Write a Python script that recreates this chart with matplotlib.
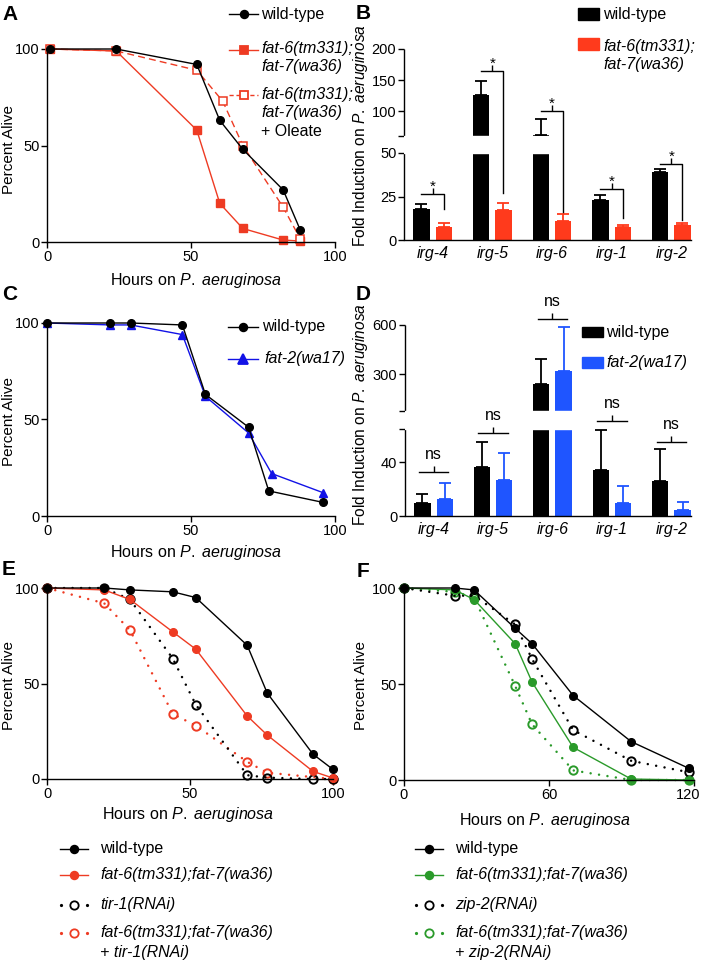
import numpy as np
import matplotlib
matplotlib.use("Agg")
import matplotlib.pyplot as plt
from matplotlib.transforms import Affine2D, ScaledTranslation
from matplotlib.lines import Line2D
from matplotlib.patches import Rectangle

plt.rcParams["font.family"] = "Liberation Sans"
plt.rcParams["mathtext.fontset"] = "custom"
plt.rcParams["mathtext.rm"] = "Liberation Sans"
plt.rcParams["mathtext.it"] = "Liberation Sans:italic"
plt.rcParams["axes.linewidth"] = 1.0

# ---- data ----
# A: survival, fat-6;fat-7 +/- oleate
hours_a = [1, 24, 52, 60, 68, 82, 88]
hours_a_ole = [1, 24, 52, 61, 68, 82, 88]
alive_a_wt = [100, 100, 92, 63, 48, 27, 6]
alive_a_fat = [100, 99, 58, 20, 7, 1, 0.5]
alive_a_ole = [100, 99, 89, 73, 50, 18, 1.5]

# B: irg induction, wt vs fat-6;fat-7
genes = ["irg-4", "irg-5", "irg-6", "irg-1", "irg-2"]
b_wt = [17.7, 126, 62, 23, 39]
b_wt_err = [3.1, 22, 26, 2.6, 1.8]
b_fat = [7.7, 17.3, 11.2, 7.7, 8.5]
b_fat_err = [2.3, 4.2, 3.6, 0.8, 1.1]
b_brk_top = [26.4, 164, 100, 29.3, 43.5]
b_brk_low = [18, 27, 16, 12.6, 11.5]

# C: survival, fat-2
hours_c_wt = [0, 22, 29, 47, 55, 70, 77, 96]
alive_c_wt = [100, 100, 100, 99, 63, 46, 13, 7]
hours_c_fat2 = [0, 22, 29, 47, 55, 70, 78, 96]
alive_c_fat2 = [100, 99, 99, 94, 62, 43, 22, 12]

# D: irg induction, wt vs fat-2
d_wt = [9.6, 36.8, 242, 34.3, 26.4]
d_wt_err = [6.7, 18.5, 150, 30.1, 23.7]
d_fat2 = [12.8, 27.2, 321, 9.6, 4.2]
d_fat2_err = [11.9, 20.2, 261, 12.9, 6.4]
d_brk = [32.9, 62, 632, 70.6, 55.3]

# E: tir-1 RNAi
hours_e = [0, 20, 29, 44, 52, 70, 77, 93, 100]
e_wt = [100, 100, 99, 98, 95, 70, 45, 13, 5]
e_fat = [100, 99, 94, 77, 68, 33, 23, 4, 0.5]
e_tir = [100, 100, 94, 63, 39, 2, 0.7, 0, 0]
hours_e_ft = [0, 20, 29, 44, 52, 70, 77, 100]
e_fat_tir = [100, 92, 78, 34, 28, 9, 3.3, 0]

# F: zip-2 RNAi
hours_f = [0, 21, 29, 46, 53, 70, 94, 118]
f_wt = [100, 100, 99, 79, 71, 44, 20, 6]
f_fat = [100, 99, 94, 71, 51, 17, 0.5, 0]
f_zip = [100, 96, 96, 81, 63, 26, 10, 4]
f_fat_zip = [100, 98, 95, 49, 29, 5, 0, 0]

RED = "#ee3b23"
RED_BAR = "#ff3a1c"
BLUE = "#1212e6"
BLUE_BAR = "#1f55ff"
GREEN = "#2a9a2a"

W, H = 702, 964
fig = plt.figure(figsize=(W / 100, H / 100), dpi=100)
PX = Affine2D().scale(1 / W, -1 / H).translate(0, 1) + fig.transFigure


def rect(l, t, r, b):
    return [l / W, 1 - b / H, (r - l) / W, (b - t) / H]


def style_ax(ax):
    ax.spines[["top", "right"]].set_visible(False)
    ax.tick_params(direction="out", length=4, width=1, labelsize=10.5, pad=1.5)


def key(x0, x1, y, color, ls="-", marker="o", mfc=None, ms=5.5, lw=1.0):
    if ls == "dots":
        fig.add_artist(Line2D([x0, x1], [y, y], transform=PX, color=color, ls="none",
                              marker="o", ms=2.3, mew=0))
    else:
        fig.add_artist(Line2D([x0, x1], [y, y], transform=PX, color=color, ls=ls, lw=lw))
    fig.add_artist(Line2D([(x0 + x1) / 2], [y], transform=PX, marker=marker, ms=ms,
                          color=color, mfc=mfc if mfc else color, mew=1.3, ls="none"))


def txt(x, y, s, italic=True, size=11.5, **kw):
    fig.text(x, y, s, transform=PX, va="center", ha=kw.pop("ha", "left"),
             style="italic" if italic else "normal", fontsize=size, **kw)


DOT = (0, (0.01, 3.4))

# ---- A ----
axA = fig.add_axes(rect(47, 49, 335, 242))
style_ax(axA)
axA.plot(hours_a, alive_a_fat, color=RED, lw=1.0, marker="s", ms=5.5, clip_on=False)
axA.plot(hours_a_ole, alive_a_ole, color=RED, lw=1.0, ls=(0, (5, 3)), marker="s", ms=6,
         mfc="white", mew=1.1, clip_on=False)
axA.plot(hours_a, alive_a_wt, color="k", lw=1.0, marker="o", ms=5.5, clip_on=False)
axA.set_xlim(0, 100)
axA.set_ylim(0, 100)
axA.set_xticks([0, 50, 100])
axA.set_yticks([0, 50, 100])

key(229, 258, 14, "k")
txt(261, 14, "wild-type", italic=False)
key(229, 258, 50, RED, marker="s")
txt(261, 49, "fat-6(tm331);")
txt(261, 66, "fat-7(wa36)")
key(229, 258, 95, RED, ls=(0, (3, 2)), marker="s", mfc="white")
txt(261, 95, "fat-6(tm331);")
txt(261, 113, "fat-7(wa36)")
txt(261, 132, "+ Oleate", italic=False)


# ---- broken-axis bar charts ----
def broken_bars(ax, vals, pxs, seg_lo, seg_hi, wt, wt_err, mut, mut_err, mut_color,
                yticks, ylabels, top):
    fwd = lambda y: np.interp(y, vals, pxs)
    inv = lambda q: np.interp(q, pxs, vals)
    ax.set_yscale("function", functions=(fwd, inv))
    x = np.arange(len(genes))
    off, wid = 0.1875, 0.275
    ax.bar(x - off, wt, wid, color="k", zorder=2)
    ax.bar(x + off, mut, wid, color=mut_color, zorder=2)
    z = np.zeros(len(genes))
    ax.errorbar(x - off, wt, yerr=[z, wt_err], fmt="none", ecolor="k", elinewidth=1.3,
                capsize=4, capthick=1.3, zorder=3)
    ax.errorbar(x + off, mut, yerr=[z, mut_err], fmt="none", ecolor=mut_color,
                elinewidth=1.3, capsize=4, capthick=1.3, zorder=3)
    ax.axhspan(seg_lo, seg_hi, color="white", zorder=2.5)
    ax.spines[["top", "right", "left"]].set_visible(False)
    yt = ax.get_yaxis_transform()
    ax.plot([0, 0], [0, seg_lo], transform=yt, color="k", lw=1.0, clip_on=False,
            solid_capstyle="butt")
    ax.plot([0, 0], [seg_hi, top], transform=yt, color="k", lw=1.0, clip_on=False,
            solid_capstyle="butt")
    ax.set_ylim(0, top)
    ax.set_yticks(yticks)
    ax.set_yticklabels(ylabels)
    ax.tick_params(axis="y", direction="out", length=4, width=1, labelsize=10.5, pad=1.5)
    ax.set_xticks(x)
    ax.set_xticklabels(genes, style="italic", fontsize=11.5)
    ax.tick_params(axis="x", length=0, pad=4)
    ax.set_xlim(-0.48, 4.33)
    return x, off


axB = fig.add_axes(rect(404, 49, 691, 240))
xb, offb = broken_bars(axB, [-1000, 0, 50, 60, 200, 3000],
                       [-1740, 0, 87, 104, 191, 191 + 2800 * 87 / 140],
                       50, 60, b_wt, b_wt_err, b_fat, b_fat_err, RED_BAR,
                       [0, 25, 50, 60, 100, 150, 200], ["0", "25", "50", "", "100", "150", "200"], 200)
for i in range(len(genes)):
    axB.plot([xb[i] - offb, xb[i] + offb, xb[i] + offb], [b_brk_top[i], b_brk_top[i], b_brk_low[i]],
             color="k", lw=1.0, zorder=4, clip_on=False)
    axB.plot([xb[i]], [b_brk_top[i]], marker=2, ms=4, mew=1.0, color="k", zorder=4)
    axB.annotate("*", (xb[i], b_brk_top[i]), xytext=(0, 2.5), textcoords="offset points",
                 ha="center", va="baseline", fontsize=11)

fig.add_artist(Rectangle((578, 8), 21, 12, transform=PX, color="k"))
fig.add_artist(Rectangle((578, 38), 21, 12, transform=PX, color=RED_BAR))
txt(603, 14, "wild-type", italic=False)
txt(603, 47, "fat-6(tm331);")
txt(603, 65, "fat-7(wa36)")

axD = fig.add_axes(rect(405, 324.5, 691, 516))
xd, offd = broken_bars(axD, [-1000, 0, 65, 78, 600, 6000],
                       [-1000 * 87 / 65, 0, 87, 105, 191.5, 191.5 + 5400 * 86.5 / 522],
                       65, 78, d_wt, d_wt_err, d_fat2, d_fat2_err, BLUE_BAR,
                       [0, 40, 65, 78, 300, 600], ["0", "40", "", "", "300", "600"], 600)
for i in range(len(genes)):
    axD.plot([xd[i] - 0.25, xd[i] + 0.25], [d_brk[i], d_brk[i]], color="k", lw=1.0,
             zorder=4, clip_on=False)
    axD.plot([xd[i]], [d_brk[i]], marker=2, ms=4, mew=1.0, color="k", zorder=4, clip_on=False)
    axD.annotate("ns", (xd[i], d_brk[i]), xytext=(0, 9.5), textcoords="offset points",
                 ha="center", va="baseline", fontsize=11.5, annotation_clip=False)

fig.add_artist(Rectangle((582, 326.5), 21, 10.5, transform=PX, color="k"))
fig.add_artist(Rectangle((582, 357), 21, 10.5, transform=PX, color=BLUE_BAR))
txt(606, 332, "wild-type", italic=False)
txt(606, 362, "fat-2(wa17)")

# ---- C ----
axC = fig.add_axes(rect(47, 323, 335, 516))
style_ax(axC)
axC.plot(hours_c_fat2, alive_c_fat2, color=BLUE, lw=1.0, marker="^", ms=6, clip_on=False)
axC.plot(hours_c_wt, alive_c_wt, color="k", lw=1.0, marker="o", ms=5.5, clip_on=False)
axC.set_xlim(0, 100)
axC.set_ylim(0, 100)
axC.set_xticks([0, 50, 100])
axC.set_yticks([0, 50, 100])
key(228, 258, 327, "k")
txt(262, 327, "wild-type", italic=False)
key(228, 258, 359, BLUE, marker="^", ms=6.5)
txt(264, 359, "fat-2(wa17)")

# ---- E ----
axE = fig.add_axes(rect(47, 588, 333, 779))
style_ax(axE)
axE.plot(hours_e_ft, e_fat_tir, color=RED, lw=1.8, ls=DOT, dash_capstyle="round",
         marker="o", ms=6, mfc="none", mew=1.4, clip_on=False)
axE.plot(hours_e, e_tir, color="k", lw=1.8, ls=DOT, dash_capstyle="round",
         marker="o", ms=6, mfc="none", mew=1.4, clip_on=False)
axE.plot(hours_e, e_fat, color=RED, lw=1.0, marker="o", ms=5.5, clip_on=False)
axE.plot(hours_e, e_wt, color="k", lw=1.0, marker="o", ms=5.5, clip_on=False)
axE.set_xlim(0, 100)
axE.set_ylim(0, 100)
axE.set_xticks([0, 50, 100])
axE.set_yticks([0, 50, 100])

# ---- F ----
axF = fig.add_axes(rect(404, 588, 694, 780))
style_ax(axF)
axF.plot(hours_f, f_fat_zip, color=GREEN, lw=1.8, ls=DOT, dash_capstyle="round",
         marker="o", ms=6, mfc="none", mew=1.4, clip_on=False)
axF.plot(hours_f, f_zip, color="k", lw=1.8, ls=DOT, dash_capstyle="round",
         marker="o", ms=6, mfc="none", mew=1.4, clip_on=False)
axF.plot(hours_f, f_fat, color=GREEN, lw=1.0, marker="o", ms=5.5, clip_on=False)
axF.plot(hours_f, f_wt, color="k", lw=1.0, marker="o", ms=5.5, clip_on=False)
axF.set_xlim(0, 120)
axF.set_ylim(0, 100)
axF.set_xticks([0, 60, 120])
axF.set_yticks([0, 50, 100])
last = axF.get_xticklabels()[-1]
last.set_transform(last.get_transform() + ScaledTranslation(-0.055, 0, fig.dpi_scale_trans))

for x0, col, rnai in [(60, RED, "tir-1(RNAi)"), (415, GREEN, "zip-2(RNAi)")]:
    tx = x0 + 40
    key(x0, x0 + 28, 849, "k")
    txt(tx, 849, "wild-type", italic=False)
    key(x0, x0 + 28, 875, col)
    txt(tx, 875, "fat-6(tm331);fat-7(wa36)")
    key(x0 + 1, x0 + 27, 905, "k", ls="dots", mfc="none", ms=6)
    txt(tx, 905, rnai)
    key(x0 + 1, x0 + 27, 933, col, ls="dots", mfc="none", ms=6)
    txt(tx, 933, "fat-6(tm331);fat-7(wa36)")
    txt(tx, 953, "+ " + rnai)

# ---- axis titles ----
hours = r"Hours on $\mathit{P.\ aeruginosa}$"
for cx, cy in [(196, 280), (196, 553), (188, 815), (545, 820)]:
    fig.text(cx, cy, hours, transform=PX, ha="center", va="center", fontsize=11.5)
for cy in [150, 421, 686]:
    fig.text(9, cy, "Percent Alive", transform=PX, ha="center", va="center",
             rotation=90, fontsize=11)
fig.text(361, 686, "Percent Alive", transform=PX, ha="center", va="center",
         rotation=90, fontsize=11)
fold = r"Fold Induction on $\mathit{P.\ aeruginosa}$"
fig.text(360, 136, fold, transform=PX, ha="center", va="center", rotation=90, fontsize=11.2)
fig.text(360, 415, fold, transform=PX, ha="center", va="center", rotation=90, fontsize=11.2)

for lx, ly, s in [(2, 5, "A"), (356, 4, "B"), (2, 285, "C"), (356, 285, "D"),
                  (2, 560, "E"), (357, 562, "F")]:
    fig.text(lx, ly, s, transform=PX, ha="left", va="top", fontsize=15, weight="bold")

fig.savefig("out.png", dpi=100)
